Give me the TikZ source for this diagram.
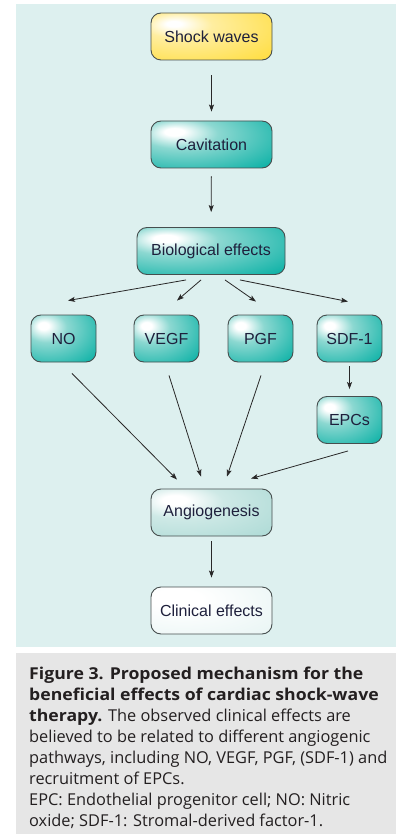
\documentclass[tikz,border=0pt]{standalone}
\usepackage{fontspec}
\setmainfont{Liberation Sans}
\newfontfamily\captionfont{Open Sans}[BoldFeatures={FakeStretch=1.08}]
\usetikzlibrary{arrows.meta,positioning,calc}
\definecolor{panelbg}{RGB}{221,240,239}
\definecolor{captionbg}{RGB}{230,230,230}
\definecolor{boxline}{RGB}{70,78,78}
\definecolor{nodetext}{RGB}{30,32,60}
\definecolor{arrowgray}{RGB}{40,40,40}
\definecolor{captext}{RGB}{35,31,32}
\definecolor{yellowfull}{RGB}{255,220,56}
\definecolor{yellowsoft}{RGB}{255,238,160}
\definecolor{tealfull}{RGB}{0,174,162}
\definecolor{tealsoft}{RGB}{140,216,209}
\definecolor{angiofull}{RGB}{164,214,209}
\definecolor{angiosoft}{RGB}{206,233,230}
\definecolor{clinfull}{RGB}{224,241,240}
\pgfdeclareradialshading{yellowglow}{\pgfpoint{-16bp}{14bp}}{color(0bp)=(white);
  color(3bp)=(white);color(14bp)=(yellowsoft);color(48bp)=(yellowfull);color(100bp)=(yellowfull)}
\pgfdeclareradialshading{tealglow}{\pgfpoint{-16bp}{14bp}}{color(0bp)=(white);
  color(4bp)=(white);color(16bp)=(tealsoft);color(48bp)=(tealfull);color(100bp)=(tealfull)}
\pgfdeclareradialshading{angioglow}{\pgfpoint{-16bp}{14bp}}{color(0bp)=(white);
  color(5bp)=(white);color(18bp)=(angiosoft);color(55bp)=(angiofull);color(100bp)=(angiofull)}
\pgfdeclareradialshading{clinglow}{\pgfpoint{-16bp}{14bp}}{color(0bp)=(white);
  color(10bp)=(white);color(60bp)=(clinfull);color(100bp)=(clinfull)}
\tikzset{
  boxbase/.style={draw=boxline,line width=0.9pt,rounded corners=10pt,
    minimum height=47pt,inner sep=0pt,shade,
    font=\fontsize{16}{19}\selectfont,text=nodetext},
  widebox/.style={boxbase,minimum width=121pt},
  smallbox/.style={boxbase,minimum width=65pt,shading=tealglow},
  flowarrow/.style={-{Stealth[length=7pt,width=5pt,inset=1.5pt]},
    line width=0.8pt,draw=arrowgray},
}

\begin{document}
\begin{tikzpicture}[x=1pt,y=-1pt]
\useasboundingbox (0,0) rectangle (405,834);
\fill[panelbg] (16,4) rectangle (396,647);
\fill[captionbg] (16,653) rectangle (396,834);

\node[widebox,shading=yellowglow] (shock) at (211.5,36.5) {Shock waves};
\node[widebox,shading=tealglow] (cav) at (211.5,144.5) {Cavitation};
\node[boxbase,minimum width=148pt,shading=tealglow] (bio) at (211,251)
  {Biological effects};
\node[smallbox] (no) at (63.5,338.5) {NO};
\node[smallbox] (vegf) at (166.5,338.5) {VEGF};
\node[smallbox] (pgf) at (260.5,338.5) {PGF};
\node[smallbox] (sdf) at (349.5,338.5) {SDF-1};
\node[smallbox] (epc) at (349.5,420) {EPCs};
\node[widebox,shading=angioglow] (angio) at (211.5,512.5) {Angiogenesis};
\node[widebox,shading=clinglow] (clin) at (211.5,610.5) {Clinical effects};

\draw[flowarrow,shorten <=15pt,shorten >=9pt] (shock) -- (cav);
\draw[flowarrow,shorten <=8pt,shorten >=15pt] (cav) -- (bio);
\draw[flowarrow] ($(bio.south)+(-25,5)$) -- ($(no.north)+(4.5,-14)$);
\draw[flowarrow] ($(bio.south)+(-10,5)$) -- ($(vegf.north)+(10.5,-14)$);
\draw[flowarrow] ($(bio.south)+(14,5)$) -- ($(pgf.north)+(-4.5,-13)$);
\draw[flowarrow] ($(bio.south)+(29,5)$) -- ($(sdf.north)+(-1.5,-13)$);
\draw[flowarrow,shorten <=4pt,shorten >=7pt] (sdf) -- (epc);
\draw[flowarrow] ($(no.south)+(8.5,11)$) -- ($(angio.north)+(-34.5,-9)$);
\draw[flowarrow] ($(vegf.south)+(2.5,13)$) -- ($(angio.north)+(-10.5,-12)$);
\draw[flowarrow] ($(pgf.south)+(0.5,13)$) -- ($(angio.north)+(15.5,-12)$);
\draw[flowarrow] ($(epc.south)+(-1.5,7)$) -- ($(angio.north)+(39.5,-10)$);
\draw[flowarrow,shorten <=5pt,shorten >=9pt] (angio) -- (clin);

\node[anchor=north west,inner sep=0pt,align=left,text=captext,
      font=\captionfont\fontsize{16.35}{20.9}\selectfont] (caption) at (29,667)
  {\textbf{Figure 3. Proposed mechanism for the}\\
   \textbf{beneficial effects of cardiac shock-wave}\\
   \textbf{therapy.} The observed clinical effects are\\
   believed to be related to different angiogenic\\
   pathways, including NO, VEGF, PGF, (SDF-1) and\\
   recruitment of EPCs.\\
   EPC: Endothelial progenitor cell; NO: Nitric\\
   oxide; SDF-1: Stromal-derived factor-1.};
\end{tikzpicture}
\end{document}
